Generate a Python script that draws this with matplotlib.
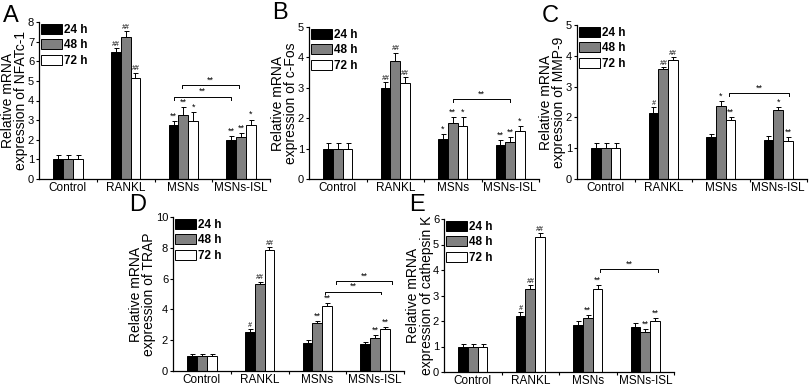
import matplotlib
matplotlib.use("Agg")
import matplotlib.pyplot as plt
import numpy as np

plt.rcParams['font.family'] = ['Liberation Sans', 'DejaVu Sans']

groups = ["Control", "RANKL", "MSNs", "MSNs-ISL"]
times = ["24 h", "48 h", "72 h"]
colors = ["black", "#808080", "white"]

# A - NFATc-1 (rows = 24 h, 48 h, 72 h; columns = groups)
nfatc1_mean = [[1.0, 6.45, 2.75, 1.97], [1.0, 7.25, 3.25, 2.15], [1.0, 5.15, 2.95, 2.75]]
nfatc1_err = [[0.2, 0.23, 0.22, 0.2], [0.2, 0.3, 0.42, 0.2], [0.2, 0.27, 0.44, 0.28]]
nfatc1_marks = [["", "##", "**", "**"], ["", "##", "**", "**"], ["", "##", "*", "*"]]
nfatc1_brackets = [(1.84, 2.83, 4.19), (1.98, 2.96, 4.78)]

# B - c-Fos
cfos_mean = [[1.0, 3.0, 1.33, 1.13], [1.0, 3.88, 1.83, 1.22], [1.0, 3.15, 1.74, 1.58]]
cfos_err = [[0.17, 0.18, 0.16, 0.14], [0.17, 0.28, 0.2, 0.15], [0.17, 0.2, 0.3, 0.15]]
cfos_marks = [["", "##", "*", "**"], ["", "##", "**", "**"], ["", "##", "*", "*"]]
cfos_brackets = [(2.0, 2.99, 2.63)]

# C - MMP-9
mmp9_mean = [[1.0, 2.15, 1.35, 1.27], [1.0, 3.57, 2.37, 2.24], [1.0, 3.86, 1.9, 1.22]]
mmp9_err = [[0.16, 0.18, 0.12, 0.13], [0.16, 0.06, 0.17, 0.1], [0.16, 0.1, 0.12, 0.13]]
mmp9_marks = [["", "#", "", ""], ["", "##", "*", "*"], ["", "##", "**", "**"]]
mmp9_brackets = [(2.15, 3.19, 2.78)]

# D - TRAP
trap_mean = [[1.0, 2.55, 1.84, 1.77], [1.0, 5.65, 3.12, 2.15], [1.0, 7.85, 4.22, 2.75]]
trap_err = [[0.08, 0.15, 0.15, 0.1], [0.08, 0.15, 0.15, 0.16], [0.08, 0.2, 0.18, 0.12]]
trap_marks = [["", "#", "", ""], ["", "##", "**", "**"], ["", "##", "**", "**"]]
trap_brackets = [(2.13, 3.11, 5.15), (2.32, 3.30, 5.84)]

# E - cathepsin K
ctsk_mean = [[1.0, 2.2, 1.84, 1.78], [1.0, 3.25, 2.12, 1.57], [1.0, 5.28, 3.27, 2.0]]
ctsk_err = [[0.1, 0.15, 0.17, 0.13], [0.1, 0.15, 0.1, 0.1], [0.1, 0.16, 0.13, 0.1]]
ctsk_marks = [["", "#", "", ""], ["", "##", "**", "**"], ["", "##", "**", "**"]]
ctsk_brackets = [(2.21, 3.23, 4.03)]

W, H = 809, 388
fig = plt.figure(figsize=(W / 100, H / 100), dpi=100)


def make_ax(left, right, top, bottom):
    return fig.add_axes([left / W, 1 - bottom / H, (right - left) / W, (bottom - top) / H])


def draw(ax, mean, err, marks, brackets, ymax, ystep, ylabel, label_x):
    x = np.arange(len(groups))
    bw = 0.17
    for i, t in enumerate(times):
        pos = x + (i - 1) * bw
        ax.bar(pos, mean[i], bw, color=colors[i], edgecolor="black", linewidth=0.7, label=t)
        ax.errorbar(pos, mean[i], yerr=[np.zeros(4), err[i]], fmt="none", ecolor="black",
                    elinewidth=0.7, capsize=1.8, capthick=0.7)
        for j in range(len(groups)):
            m = marks[i][j]
            if m:
                hash_mark = "#" in m
                ax.text(pos[j], mean[i][j] + err[i][j] + ymax * 0.002, m,
                        ha="center", va="bottom", fontsize=5 if hash_mark else 6.5,
                        style="italic" if hash_mark else "normal")
    drop = ymax * 0.018
    for x0, x1, y in brackets:
        ax.plot([x0, x0, x1, x1], [y - drop, y, y, y - drop], color="black", lw=0.7)
        ax.text((x0 + x1) / 2, y + ymax * 0.004, "**", ha="center", va="bottom", fontsize=6.5)
    ax.set_xlim(-0.5, 3.5)
    ax.set_ylim(0, ymax)
    ax.set_yticks(np.arange(0, ymax + 0.01, ystep))
    ax.set_xticks(x)
    ax.set_xticklabels(groups)
    ax.set_xticks([0.5, 1.5, 2.5, 3.5], minor=True)
    ax.tick_params(axis="x", which="major", length=0, labelsize=8.5, pad=2)
    ax.tick_params(axis="x", which="minor", length=2.5, width=0.8, direction="out")
    ax.tick_params(axis="y", length=2.5, width=0.8, labelsize=8, pad=1)
    for s in ["top", "right"]:
        ax.spines[s].set_visible(False)
    for s in ["left", "bottom"]:
        ax.spines[s].set_linewidth(0.9)
    ax.set_ylabel(ylabel, fontsize=10, linespacing=0.92)
    l, r = ax.get_position().x0 * W, ax.get_position().x1 * W
    ax.yaxis.set_label_coords((label_x - l) / (r - l), 0.5)
    ax.legend(loc="upper left", frameon=False, handlelength=1.8, handleheight=0.9,
              labelspacing=0.3, handletextpad=0.2, borderaxespad=0.0, borderpad=0.15,
              prop={"weight": "bold", "size": 8.5})


ax_a = make_ax(39, 270, 22, 179)
draw(ax_a, nfatc1_mean, nfatc1_err, nfatc1_marks, nfatc1_brackets, 8, 1,
     "Relative mRNA\nexpression of NFATc-1", 28.5)
ax_b = make_ax(309, 539, 27, 179)
draw(ax_b, cfos_mean, cfos_err, cfos_marks, cfos_brackets, 5, 1,
     "Relative mRNA\nexpression of c-Fos", 298.5)
ax_c = make_ax(577, 807, 25, 179)
draw(ax_c, mmp9_mean, mmp9_err, mmp9_marks, mmp9_brackets, 5, 1,
     "Relative mRNA\nexpression of MMP-9", 566.5)
ax_d = make_ax(173, 404, 217, 371)
draw(ax_d, trap_mean, trap_err, trap_marks, trap_brackets, 10, 2,
     "Relative mRNA\nexpression of TRAP", 156)
ax_e = make_ax(444, 674, 219, 372)
draw(ax_e, ctsk_mean, ctsk_err, ctsk_marks, ctsk_brackets, 6, 1,
     "Relative mRNA\nexpression of cathepsin K", 433.5)

for letter, px, py in [("A", 3, 5), ("B", 272, 2), ("C", 542, 5), ("D", 129, 194), ("E", 409, 194)]:
    fig.text(px / W, 1 - py / H, letter, fontsize=17, ha="left", va="top")

fig.savefig("out.png", dpi=100)
